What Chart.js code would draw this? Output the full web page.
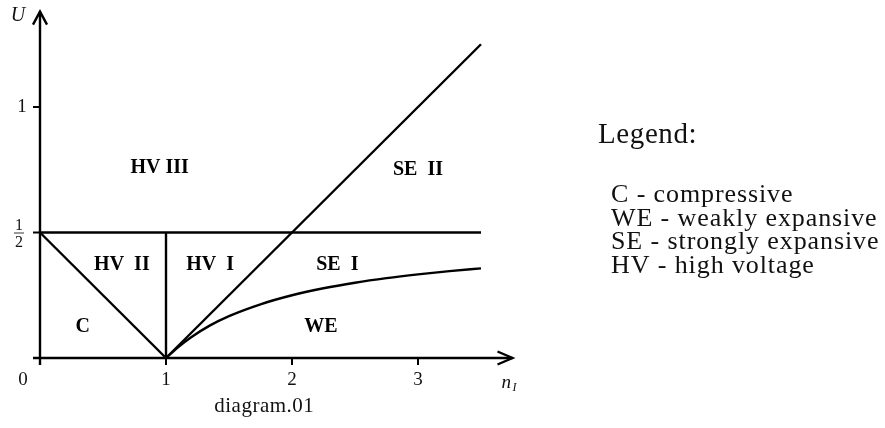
<!DOCTYPE html>
<html>
<head>
<meta charset="utf-8">
<script src="https://cdn.jsdelivr.net/npm/chart.js@4/dist/chart.umd.min.js"></script>
<style>
  html, body { margin: 0; padding: 0; background: #fff; }
  #wrap { width: 885px; height: 428px; }
</style>
</head>
<body>
<div id="wrap"><canvas id="c" width="885" height="428"></canvas></div>
<script>
// Region boundaries in the (n_I, U) plane
const levelN = [0, 3.5];
const levelU = [0.5, 0.5];
const compN = [0, 1];
const compU = [0.5, 0];
const hvN = [1, 1];
const hvU = [0, 0.5];
const strongN = [1, 3.5];
const strongU = [0, 1.25];
const weakN = [1, 1.1, 1.2, 1.35, 1.5, 1.75, 2, 2.25, 2.5, 2.75, 3, 3.25, 3.5];
const weakU = [0, 0.045, 0.083, 0.13, 0.167, 0.214, 0.25, 0.278, 0.3, 0.318, 0.333, 0.346, 0.357];

// Axis ticks
const xTickValues = [1, 2, 3];
const xTickLabels = ['1', '2', '3'];
const yTickValues = [0.5, 1];
const yTickLabels = ['1/2', '1'];

// Region names and where they sit in the plane
const regionNames = ['HV III', 'SE  II', 'HV  II', 'HV  I', 'SE  I', 'C', 'WE'];
const regionN = [0.95, 3.0, 0.65, 1.35, 2.36, 0.34, 2.23];
const regionU = [0.757, 0.749, 0.37, 0.37, 0.37, 0.123, 0.123];

const legendTitle = 'Legend:';
const legendLines = ['C - compressive', 'WE - weakly expansive', 'SE - strongly expansive', 'HV - high voltage'];
const caption = 'diagram.01';

const SERIF = '"Liberation Serif", "DejaVu Serif", serif';
const INK = '#000';

function pts(xs, ys) { return xs.map((x, i) => ({ x, y: ys[i] })); }

function lineSet(xs, ys, extra) {
  return Object.assign({
    data: pts(xs, ys),
    showLine: true,
    borderColor: INK,
    borderWidth: 2.4,
    pointRadius: 0,
    fill: false,
    clip: false
  }, extra || {});
}

const decorations = {
  id: 'decorations',
  afterDatasetsDraw(chart) {
    const ctx = chart.ctx;
    const xs = chart.scales.x, ys = chart.scales.y;
    const x0 = xs.getPixelForValue(0), y0 = ys.getPixelForValue(0);
    const xEnd = xs.getPixelForValue(xs.max), yEnd = ys.getPixelForValue(ys.max);
    const tick = 7;

    ctx.save();
    ctx.strokeStyle = INK;
    ctx.lineWidth = 2.4;
    ctx.lineCap = 'butt';

    // axes
    ctx.beginPath();
    ctx.moveTo(x0 - tick, y0); ctx.lineTo(xEnd, y0);
    ctx.moveTo(x0, y0 + tick); ctx.lineTo(x0, yEnd);
    ctx.stroke();

    // arrowheads
    ctx.lineJoin = 'miter';
    ctx.beginPath();
    ctx.moveTo(xEnd - 15, y0 - 6.5); ctx.lineTo(xEnd, y0); ctx.lineTo(xEnd - 15, y0 + 6.5);
    ctx.moveTo(x0 - 7, yEnd + 13); ctx.lineTo(x0, yEnd); ctx.lineTo(x0 + 7, yEnd + 13);
    ctx.stroke();

    // tick marks
    ctx.lineWidth = 2;
    ctx.beginPath();
    xTickValues.forEach(v => { const px = xs.getPixelForValue(v); ctx.moveTo(px, y0); ctx.lineTo(px, y0 + tick); });
    yTickValues.forEach(v => { const py = ys.getPixelForValue(v); ctx.moveTo(x0 - tick, py); ctx.lineTo(x0, py); });
    ctx.stroke();

    // tick labels
    ctx.fillStyle = '#111';
    ctx.font = '19px ' + SERIF;
    ctx.textAlign = 'center';
    ctx.textBaseline = 'alphabetic';
    ctx.fillText('0', x0 - 17, y0 + 27);
    xTickValues.forEach((v, i) => ctx.fillText(xTickLabels[i], xs.getPixelForValue(v), y0 + 27));
    yTickValues.forEach((v, i) => {
      const py = ys.getPixelForValue(v);
      const lab = yTickLabels[i];
      if (lab.includes('/')) {
        const [num, den] = lab.split('/');
        ctx.font = '16px ' + SERIF;
        ctx.fillText(num, x0 - 21, py - 3);
        ctx.fillText(den, x0 - 21, py + 14);
        ctx.save();
        ctx.lineWidth = 0.8;
        ctx.beginPath(); ctx.moveTo(x0 - 26, py + 0.5); ctx.lineTo(x0 - 16, py + 0.5); ctx.stroke();
        ctx.restore();
        ctx.font = '19px ' + SERIF;
      } else {
        ctx.textBaseline = 'middle';
        ctx.fillText(lab, x0 - 18, py);
        ctx.textBaseline = 'alphabetic';
      }
    });

    // axis names
    ctx.font = 'italic 20px ' + SERIF;
    ctx.textAlign = 'center';
    ctx.fillText('U', x0 - 22, yEnd + 9);
    ctx.textAlign = 'left';
    ctx.font = 'italic 19px ' + SERIF;
    ctx.fillText('n', xEnd - 11, y0 + 30);
    ctx.font = 'italic 12px ' + SERIF;
    ctx.fillText('I', xEnd, y0 + 33);

    // caption
    ctx.font = '21px ' + SERIF;
    ctx.textAlign = 'center';
    ctx.letterSpacing = '0.5px';
    ctx.fillText(caption, xs.getPixelForValue(1.78), y0 + 54);
    ctx.letterSpacing = '0px';

    // region names
    ctx.fillStyle = INK;
    ctx.font = 'bold 20px ' + SERIF;
    ctx.textAlign = 'center';
    ctx.textBaseline = 'middle';
    regionNames.forEach((name, i) => {
      ctx.fillText(name, xs.getPixelForValue(regionN[i]), ys.getPixelForValue(regionU[i]));
    });

    // legend
    ctx.fillStyle = '#111';
    ctx.textAlign = 'left';
    ctx.textBaseline = 'alphabetic';
    ctx.font = '29px ' + SERIF;
    ctx.letterSpacing = '0.6px';
    ctx.fillText(legendTitle, 598, 143);
    ctx.font = '26px ' + SERIF;
    ctx.letterSpacing = '0.9px';
    legendLines.forEach((t, i) => ctx.fillText(t, 611, 202 + i * 23.6));
    ctx.letterSpacing = '0px';

    ctx.restore();
  }
};

new Chart(document.getElementById('c'), {
  type: 'scatter',
  data: {
    datasets: [
      lineSet(levelN, levelU),
      lineSet(compN, compU),
      lineSet(hvN, hvU),
      lineSet(strongN, strongU),
      lineSet(weakN, weakU, { cubicInterpolationMode: 'monotone' })
    ]
  },
  options: {
    responsive: false,
    animation: false,
    events: [],
    layout: { padding: { left: 40, right: 372.5, top: 11.62, bottom: 70 } },
    plugins: { legend: { display: false }, tooltip: { enabled: false } },
    scales: {
      x: { type: 'linear', display: false, min: 0, max: 3.75 },
      y: { type: 'linear', display: false, min: 0, max: 1.38 }
    }
  },
  plugins: [decorations]
});
</script>
</body>
</html>
